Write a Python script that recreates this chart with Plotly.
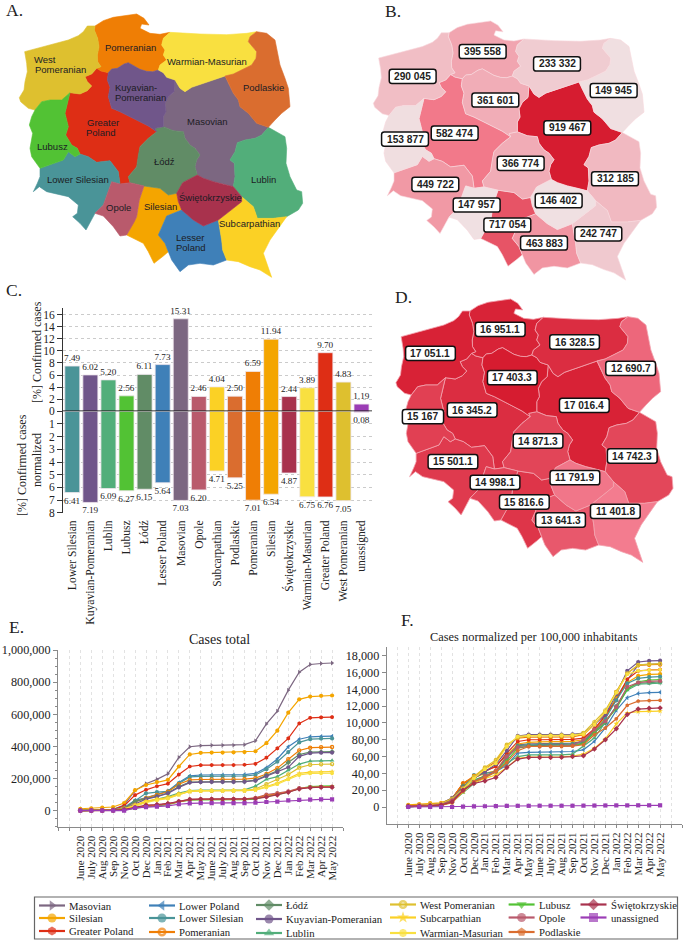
import plotly.graph_objects as go

W, H = 685, 943
SERIF = "Liberation Serif"
SANS = "Liberation Sans"

# ---------- data ----------
regions = ["Masovian", "Silesian", "Greater Poland", "Lesser Poland", "Lower Silesian", "Pomeranian", "Łódź",
           "Kuyavian-Pomeranian", "Lublin", "West Pomeranian", "Subcarpathian", "Warmian-Masurian", "Lubusz",
           "Opole", "Podlaskie", "Świętokrzyskie"]
legend_names = ["Masovian", "Silesian", "Greater Poland", "Lower Poland", "Lower Silesian", "Pomeranian", "Łódź",
                "Kuyavian-Pomeranian", "Lublin", "West Pomeranian", "Subcarpathian", "Warmian-Masurian", "Lubusz",
                "Opole", "Podlaskie", "Świętokrzyskie", "unassigned"]
colors = ["#7C6781", "#F4A500", "#DE2E15", "#3F80B8", "#4A9498", "#EF7E05", "#618C66", "#70568A", "#52AE7A",
          "#DEC02F", "#FBD125", "#F9E040", "#52C234", "#B95A6C", "#DA6D2F", "#A8324D", "#9B3DB5"]
symbols = ["triangle-right", "circle", "hexagon", "triangle-left", "circle", "circle-open", "diamond", "circle",
           "triangle-up", "circle-open", "star", "asterisk-open", "triangle-down", "circle", "pentagon", "diamond",
           "square"]

# province boundary chains (map units); provinces are assembled from these
coast_wp = [(105,330),(85,325),(62,305),(58,293),(72,270),(75,245),(82,215),(80,190),(74,155),(110,145),(170,130),(205,120),(235,107),(250,95),(262,78),(285,78)]
wp_pom = [(285,78),(283,90),(293,115),(297,140),(292,165),(293,185),(303,200),(290,205)]
pom_coast = [(285,78),(310,62),(340,52),(380,45),(410,42),(432,55),(447,75),(425,72),(420,85),(450,100),(480,103),(510,97)]
wp_gp = [(210,278),(240,282),(262,272),(275,258),(262,245),(255,230),(275,222),(290,205)]
wp_lubusz = [(210,278),(185,300),(150,300),(125,305),(105,330)]
pom_gp = [(290,205),(303,213),(325,218)]
pom_kuy = [(325,218),(335,207),(352,205),(372,192),(385,188),(405,200),(420,208),(440,214),(458,215),(475,210)]
pom_war = [(510,97),(490,115),(485,135),(495,150),(490,165),(500,180),(480,195),(475,210)]
war_coast = [(510,97),(550,100),(600,102),(680,104),(740,100),(770,95)]
war_pod = [(770,95),(750,110),(745,125),(770,155),(768,175),(755,195),(725,210),(700,222),(675,228)]
war_mas = [(675,228),(640,240),(600,255),(575,262),(555,275),(540,265),(525,240)]
war_kuy = [(525,240),(500,232),(490,218),(475,210)]
pod_outer = [(770,95),(800,100),(825,120),(835,165),(840,195),(855,235),(865,265),(870,320),(845,340),(825,360),(805,382)]
pod_mas = [(675,228),(685,250),(700,280),(715,300),(720,320),(745,340),(770,370),(805,382)]
kuy_mas = [(525,240),(522,275),(505,290),(495,310),(498,335),(490,350),(490,380)]
kuy_gp = [(325,218),(322,240),(330,262),(325,290),(335,325),(360,335),(390,350),(420,365),(445,378),(470,395)]
kuy_lod = [(470,395),(465,385),(490,380)]
mas_lod = [(490,380),(520,392),(550,395),(555,415),(570,435),(585,445),(600,465),(590,480),(585,500),(592,525)]
mas_lublin = [(805,382),(785,405),(765,415),(735,420),(712,428),(705,455),(690,480),(703,490),(705,530),(700,560)]
mas_swi = [(592,525),(610,535),(640,545),(670,552),(700,560)]
gp_lod = [(470,395),(445,415),(420,440),(415,465),(410,500),(385,530),(390,548)]
gp_opole = [(390,548),(360,552)]
gp_lubusz = [(210,278),(195,340),(205,380),(197,405),(215,435),(232,445),(240,462)]
gp_ls = [(240,462),(265,470),(290,487),(330,482),(355,515),(360,552)]
lubusz_outer = [(105,330),(95,350),(88,375),(98,400),(90,445),(95,470),(120,505)]
lubusz_ls = [(120,505),(160,490),(190,480),(205,455),(225,470),(240,462)]
ls_outer = [(120,505),(120,530),(112,550),(100,575),(118,560),(140,575),(160,580),(205,590),(235,615),(232,640),(218,650),(240,670),(258,690),(285,640)]
ls_opole = [(360,552),(335,545),(325,575),(310,615),(285,640)]
opole_outer = [(285,640),(310,648),(340,680),(360,708),(380,705)]
opole_sil = [(432,558),(418,600),(410,650),(403,665),(380,705)]
opole_lod = [(390,548),(432,558)]
lod_sil = [(432,558),(480,565),(505,585),(530,580)]
lod_swi = [(530,580),(548,548),(592,525)]
sil_swi = [(530,580),(535,605),(545,630)]
sil_lesser = [(545,630),(500,648),(475,705),(495,730),(505,755)]
sil_outer = [(380,705),(430,730),(445,755),(462,790),(490,768),(505,755)]
swi_lesser = [(545,630),(580,660),(610,678),(655,660)]
swi_subc = [(655,660),(700,625),(725,605),(725,590)]
swi_lublin = [(700,560),(725,590)]
lublin_subc = [(725,590),(760,620),(772,655),(820,655),(860,650)]
lublin_outer = [(805,382),(830,395),(855,410),(860,445),(858,490),(870,530),(890,570),(905,575),(908,610),(895,630),(860,650)]
subc_outer = [(860,650),(835,685),(810,720),(790,760),(815,832),(780,810),(750,800),(715,785),(680,780)]
subc_lesser = [(655,660),(665,720),(668,750),(680,780)]
lesser_outer = [(505,755),(515,780),(540,815),(565,795),(600,790),(640,795),(680,780)]

def ring(*chains):
    first = list(chains[0])
    if first[-1] not in (chains[1][0], chains[1][-1]):
        first.reverse()
    pts = first
    for c in chains[1:]:
        seg = list(c) if c[0] == pts[-1] else list(reversed(c))
        pts += seg[1:]
    return pts

outlines = [
    ring(war_mas, kuy_mas, mas_lod, mas_swi, mas_lublin, pod_mas),
    ring(lod_sil, sil_swi, sil_lesser, sil_outer, opole_sil),
    ring(pom_gp, kuy_gp, gp_lod, gp_opole, gp_ls, gp_lubusz, wp_gp),
    ring(swi_lesser, subc_lesser, lesser_outer, sil_lesser),
    ring(lubusz_ls, gp_ls, ls_opole, ls_outer),
    ring(pom_coast, pom_war, pom_kuy, pom_gp, wp_pom),
    ring(kuy_lod, mas_lod, lod_swi, lod_sil, opole_lod, gp_lod),
    ring(pom_kuy, war_kuy, kuy_mas, kuy_lod, kuy_gp),
    ring(lublin_outer, lublin_subc, swi_lublin, mas_lublin),
    ring(coast_wp, wp_pom, wp_gp, wp_lubusz),
    ring(lublin_subc, subc_outer, subc_lesser, swi_subc),
    ring(war_coast, war_pod, war_mas, war_kuy, pom_war),
    ring(wp_lubusz, lubusz_outer, lubusz_ls, gp_lubusz),
    ring(opole_lod, opole_sil, opole_outer, ls_opole, gp_opole),
    ring(pod_outer, pod_mas, war_pod),
    ring(lod_swi, mas_swi, swi_lublin, swi_subc, swi_lesser, sil_swi),
]

# panel A labels
a_text = ["West", "Pomeranian", "Pomeranian", "Warmian-Masurian", "Kuyavian-", "Pomeranian", "Podlaskie", "Greater", "Poland",
          "Masovian", "Lubusz", "Łódź", "Lower Silesian", "Lublin", "Opole", "Silesian", "Świętokrzyskie", "Lesser", "Poland",
          "Subcarpathian"]
a_x = [135,180,391,622,407,420,789,308,304,622,158,494,235,791,356,480,632,572,574,749]
a_y = [177,209,143,185,262,293,263,366,398,363,440,484,539,537,623,618,592,711,742,670]

# panel B: confirmed cases by region (order of `regions`)
cases_total = [919467, 717054, 582474, 463883, 449722, 395558, 366774, 361601, 312185, 290045, 242747, 233332, 153877,
               147957, 149945, 146402]
b_x = [640,460,302,570,244,386,500,424,783,176,733,609,153,368,779,614]
b_y = [368,664,384,719,540,135,476,283,523,211,691,173,402,603,254,590]

# panel D: cases normalized by region
cases_norm = [17016.4, 15816.6, 16345.2, 13641.3, 15501.1, 16951.1, 14871.3, 17403.3, 14742.3, 17051.1, 11401.8, 16328.5,
              15167, 14998.1, 12690.7, 11791.9]
d_x = [636,452,292,563,233,378,494,415,783,164,731,606,141,362,778,607]
d_y = [361,651,375,705,530,133,468,278,513,205,679,171,395,592,250,578]

# panel C
bar_names = ["Lower Silesian", "Kuyavian-Pomeranian", "Lublin", "Lubusz", "Łódź", "Lesser Poland", "Masovian", "Opole",
             "Subcarpathian", "Podlaskie", "Pomeranian", "Silesian", "Świętokrzyskie", "Warmian-Masurian", "Greater Poland",
             "West Pomeranian", "unassigned"]
bar_colors = ["#4A9498", "#70568A", "#52AE7A", "#52C234", "#618C66", "#3F80B8", "#7C6781", "#B95A6C", "#FBD125", "#DA6D2F",
              "#EF7E05", "#F4A500", "#A8324D", "#F9E040", "#DE2E15", "#DEC02F", "#9B3DB5"]
pct_confirmed = [7.49, 6.02, 5.20, 2.56, 6.11, 7.73, 15.31, 2.46, 4.04, 2.50, 6.59, 11.94, 2.44, 3.89, 9.70, 4.83, 1.19]
pct_normalized = [6.41, 7.19, 6.09, 6.27, 6.15, 5.64, 7.03, 6.20, 4.71, 5.25, 7.01, 6.54, 4.87, 6.75, 6.76, 7.05, 0.08]

# panels E and F
months = ["June 2020", "July 2020", "Aug 2020", "Sep 2020", "Nov 2020", "Oct 2020", "Dec 2020", "Jan 2021", "Feb 2021",
          "Mar 2021", "Apr 2021", "May 2021", "June 2021", "July 2021", "Aug 2021", "Sep 2021", "Oct 2021", "Nov 2021",
          "Dec 2021", "Jan 2022", "Feb 2022", "Mar 2022", "Apr 2022", "May 2022"]
e_masovian = [3,4,6,9,35,125,168,195,230,332,398,405,407,407,408,411,435,540,620,750,862,910,916,919]
e_silesian = [12,15,19,23,48,128,160,178,192,275,350,360,362,362,363,365,370,420,498,610,693,710,715,717]
e_greater = [2,3,4,7,30,97,130,152,168,225,275,283,284,284,284,286,292,330,388,450,543,578,581,582]
e_lesser = [2,3,4,6,20,65,80,100,122,175,217,222,223,223,223,225,232,268,322,398,445,460,462,464]
e_lower_silesian = [1,2,3,5,15,62,108,115,120,170,210,214,215,215,215,216,222,258,305,365,425,445,449,450]
e_pomeranian = [1,2,3,4,15,55,80,98,118,165,192,194,195,195,195,196,203,228,265,320,375,392,395,396]
e_lodz = [2,2,3,4,15,58,75,90,110,150,178,180,181,181,181,182,190,220,248,300,350,364,366,367]
e_kuyavian = [1,1,2,3,12,40,72,88,108,145,175,178,179,179,179,180,187,215,240,270,338,358,361,362]
e_lublin = [1,1,2,3,10,30,55,72,88,110,125,128,128,128,128,130,153,195,212,252,290,308,311,312]
e_west_pom = [1,1,2,2,8,32,55,70,82,105,120,124,124,125,125,126,135,165,195,225,268,286,289,290]
e_subcarpathian = [2,3,4,5,12,38,60,72,80,100,120,123,123,123,124,124,128,148,172,200,232,240,242,243]
e_warmian = [1,1,1,2,8,28,50,65,75,100,122,125,126,126,126,127,130,145,165,195,222,232,233,233]
e_lubusz = [0,1,1,1,5,15,25,30,38,55,65,67,67,67,68,68,72,90,100,115,138,150,153,154]
e_opole = [1,2,2,3,6,18,28,35,42,58,70,72,73,73,73,73,80,100,110,120,140,146,147,148]
e_podlaskie = [0,1,1,2,5,18,30,35,42,55,68,70,70,70,70,72,78,95,105,118,137,146,149,150]
e_swietokrzyskie = [1,1,2,3,7,20,35,38,45,58,70,72,72,72,72,72,75,85,98,115,135,143,146,146]
e_unassigned = [0,0,0,0,0,18,22,25,30,40,46,47,47,47,47,47,50,54,57,64,67,69,70,70]
e_series = [e_masovian, e_silesian, e_greater, e_lesser, e_lower_silesian, e_pomeranian, e_lodz, e_kuyavian, e_lublin,
            e_west_pom, e_subcarpathian, e_warmian, e_lubusz, e_opole, e_podlaskie, e_swietokrzyskie, e_unassigned]

f_masovian = [150,200,300,400,1000,2700,3500,4200,4900,6200,7400,7500,7550,7550,7560,7600,7800,9100,10900,13000,15100,16900,16980,17016]
f_silesian = [250,350,450,500,1000,2800,3500,4000,4300,6100,7500,7700,7750,7750,7770,7800,8000,9200,10600,13000,14800,15600,15780,15816]
f_greater = [100,150,200,300,1000,2800,3600,4300,4800,6400,7800,8000,8000,8000,8000,8050,8200,9300,10900,12700,15200,16200,16300,16345]
f_lesser = [50,100,150,200,700,2100,2900,3500,4200,5000,6400,6500,6520,6520,6550,6600,6800,7800,9400,11500,13000,13500,13600,13641]
f_lower_silesian = [50,100,150,200,800,2300,3800,4000,4200,5800,7300,7400,7450,7450,7450,7500,7700,8900,10500,12700,14700,15300,15450,15501]
f_pomeranian = [150,200,300,400,1000,2800,3700,4600,5400,7300,8200,8300,8300,8300,8320,8350,8600,9800,11300,13700,15900,16850,16930,16951]
f_lodz = [100,150,200,250,800,2500,3200,3700,4200,6000,7200,7300,7300,7300,7300,7380,7600,8800,10000,12000,14100,14700,14800,14871]
f_kuyavian = [100,150,250,350,1100,2300,3400,4200,5100,6700,8450,8600,8600,8620,8620,8640,8800,9800,11000,13400,16200,17250,17380,17403]
f_lublin = [50,100,150,200,600,1700,2800,3500,4200,5200,6000,6200,6200,6200,6200,6300,7200,8200,10100,12000,13900,14600,14700,14742]
f_west_pom = [150,200,300,400,1000,2200,3600,4700,5600,7400,8300,8450,8480,8480,8500,8530,8800,10100,11500,13700,15900,16900,17000,17051]
f_subcarpathian = [100,150,200,250,550,1800,2900,3400,3800,4700,5800,5950,5950,5950,5980,6050,6300,7000,8100,9900,11200,11350,11400,11401]
f_warmian = [100,100,150,200,600,2100,3400,4500,5200,7200,8400,8500,8500,8500,8520,8540,8650,9800,11300,13600,15800,16200,16300,16328]
f_lubusz = [50,100,100,150,700,2000,3100,3700,4200,5500,7000,7200,7200,7200,7250,7300,7500,8900,10200,11700,14000,14900,15100,15167]
f_opole = [100,200,200,300,800,2000,3000,3700,4300,6000,7100,7200,7200,7200,7250,7300,8000,9200,10200,11900,14300,14800,14950,14998]
f_podlaskie = [50,100,100,200,500,1900,3000,3500,4200,5300,6700,7200,7200,7200,7200,7250,7400,8600,9400,10500,12100,12600,12650,12690]
f_swietokrzyskie = [100,100,150,250,600,2000,2800,3100,3500,4700,5700,5900,5900,5900,5930,6000,6100,6900,8000,9300,11000,11650,11750,11791]
f_unassigned = [0,0,0,0,0,50,70,90,110,130,140,140,150,150,150,150,160,170,180,190,190,200,200,200]
f_series = [f_masovian, f_silesian, f_greater, f_lesser, f_lower_silesian, f_pomeranian, f_lodz, f_kuyavian, f_lublin,
            f_west_pom, f_subcarpathian, f_warmian, f_lubusz, f_opole, f_podlaskie, f_swietokrzyskie, f_unassigned]
f_yticks = [0, 2000, 4000, 6000, 8000, 10000, 12000, 14000, 16000, 18000]
f_yticktext = ["0", "20,00", "40,00", "60,00", "80,00", "10,000", "12,000", "14,000", "16,000", "18,000"]

# ---------- helpers ----------
def xd(a, b):
    return [a / W, b / W]

def yd(top, bottom):
    return [1 - bottom / H, 1 - top / H]

def lerp(c0, c1, t):
    return tuple(c0[i] + (c1[i] - c0[i]) * t for i in range(3))

def rgb(c):
    return "rgb(%d,%d,%d)" % tuple(round(v) for v in c)

def shade_b(v):
    t = (v - min(cases_total)) / (max(cases_total) - min(cases_total))
    low, mid, high = (240, 224, 226), (242, 122, 139), (214, 28, 48)
    return rgb(lerp(low, mid, t / 0.56) if t < 0.56 else lerp(mid, high, (t - 0.56) / 0.44))

def shade_d(v):
    t = (v - min(cases_norm)) / (max(cases_norm) - min(cases_norm))
    return rgb(lerp((243, 124, 143), (214, 28, 48), t))

def rounded(cx, cy, hw, hh, r):
    x0, x1, y0, y1 = cx - hw, cx + hw, cy - hh, cy + hh
    return (f"M{x0+r},{y0} L{x1-r},{y0} Q{x1},{y0} {x1},{y0+r} L{x1},{y1-r} Q{x1},{y1} {x1-r},{y1} "
            f"L{x0+r},{y1} Q{x0},{y1} {x0},{y1-r} L{x0},{y0+r} Q{x0},{y0} {x0+r},{y0} Z")

fig = go.Figure()
annotations, shapes = [], []

def paper_text(px, py, text, size, family=SERIF, angle=0, xanchor="center"):
    annotations.append(dict(x=px / W, y=1 - py / H, xref="paper", yref="paper", text=text, showarrow=False,
                            font=dict(size=size, family=family, color="#222"), textangle=angle,
                            xanchor=xanchor, yanchor="middle"))

# ---------- maps ----------
def draw_map(ax, fills, border, bw):
    for outline, fill, name in zip(outlines, fills, regions):
        xs = [p[0] for p in outline] + [outline[0][0]]
        ys = [p[1] for p in outline] + [outline[0][1]]
        fig.add_trace(go.Scatter(x=xs, y=ys, mode="lines", fill="toself", fillcolor=fill, name=name, hoverinfo="name",
                                 line=dict(color=border or fill, width=bw), showlegend=False,
                                 xaxis="x" + ax, yaxis="y" + ax))

draw_map("", colors[:16], None, 0.6)
draw_map("2", [shade_b(v) for v in cases_total], "#F8D8DD", 0.6)
draw_map("3", [shade_d(v) for v in cases_norm], "#F3A3AE", 0.8)

for t, x, y in zip(a_text, a_x, a_y):
    annotations.append(dict(x=x, y=y, xref="x", yref="y", text=t, showarrow=False,
                            font=dict(size=9.5, family=SANS, color="#1c1c24")))

def fmt_space(v):
    if isinstance(v, float):
        whole = int(v)
        return f"{whole:,}".replace(",", " ") + f".{round((v - whole) * 10)}"
    return f"{v:,}".replace(",", " ")

def map_labels(ax, values, xs, ys, xunit):
    for v, x, y in zip(values, xs, ys):
        s = fmt_space(v)
        digits = sum(c.isdigit() for c in s)
        text_w = (digits * 0.556 + (len(s) - digits) * 0.278) * 10.2
        shapes.append(dict(type="path", path=rounded(x, y, (text_w / 2 + 5) * xunit, 7.2 * 3, 8),
                           xref="x" + ax, yref="y" + ax, fillcolor="white", line=dict(color="#111", width=1.5),
                           layer="above"))
        annotations.append(dict(x=x, y=y, xref="x" + ax, yref="y" + ax, text="<b>" + s + "</b>", showarrow=False,
                                font=dict(size=10.2, family=SANS, color="#222")))

map_labels("2", cases_total, b_x, b_y, 3.0)
map_labels("3", cases_norm, d_x, d_y, 3.0 / 0.978)

# ---------- bars ----------
idx = list(range(len(bar_names)))
for vals, ax in ((pct_confirmed, "4"), (pct_normalized, "5")):
    fig.add_trace(go.Bar(x=idx, y=vals, marker=dict(color=bar_colors, line=dict(color="#EFE6EC", width=0.8)),
                         width=0.83, text=[f"{v:.2f}" for v in vals], textposition="outside", cliponaxis=False,
                         constraintext="none", textangle=0,
                         textfont=dict(size=9.2, family=SERIF, color="#222"), showlegend=False, xaxis="x" + ax, yaxis="y" + ax))
shapes.append(dict(type="line", x0=-0.514, x1=16.58, y0=0, y1=0, xref="x4", yref="y4",
                   line=dict(color="black", width=1.5), layer="above"))

# ---------- lines ----------
for series, ax, scale in ((e_series, "6", 1000), (f_series, "7", 1)):
    for vals, name, col, sym in zip(series, legend_names, colors, symbols):
        is_open = "open" in sym
        fig.add_trace(go.Scatter(x=list(range(len(months))), y=[v * scale for v in vals], mode="lines+markers", name=name,
                                 line=dict(color=col, width=1.2),
                                 marker=dict(symbol=sym, size=3.2 if is_open else 4.2, color=col,
                                             line=dict(color=col, width=1.2 if is_open else 0)),
                                 showlegend=False, xaxis="x" + ax, yaxis="y" + ax))

# ---------- manual legend ----------
legend_col_x0 = [39, 39, 39, 149, 149, 149, 256, 256, 256, 390, 390, 390, 508.6, 508.6, 508.6, 580.5, 580.5]
legend_row_y = [905.5, 918, 931, 905.5, 918, 932, 905, 919, 933, 904.5, 917.5, 933, 904.5, 917.5, 932, 904.5, 917.5]
for name, col, sym, x0, y in zip(legend_names, colors, symbols, legend_col_x0, legend_row_y):
    is_open = "open" in sym
    fig.add_trace(go.Scatter(x=[x0, x0 + 13, x0 + 26], y=[y, y, y], mode="lines+markers", name=name,
                             line=dict(color=col, width=2.2),
                             marker=dict(symbol=sym, size=[0, 6.5 if is_open else 9, 0], color=col,
                                         line=dict(color=col, width=2.5 if is_open else 0)),
                             showlegend=False, xaxis="x8", yaxis="y8"))
    annotations.append(dict(x=x0 + 28, y=y, xref="x8", yref="y8", text=name, showarrow=False, xanchor="left",
                            font=dict(size=10.7, family=SERIF, color="#222")))
shapes.append(dict(type="rect", x0=34.5, x1=677.5, y0=897, y1=939, xref="x8", yref="y8",
                   line=dict(color="#666", width=1.2), fillcolor="rgba(0,0,0,0)", layer="below"))

# ---------- text ----------
for t, x, y in (("A.", 4, 10), ("B.", 383, 11), ("C.", 4, 290), ("D.", 393, 297), ("E.", 7, 627), ("F.", 399, 620)):
    paper_text(x, y, t, 17.5, xanchor="left")
paper_text(37, 352, "[%] Confirmed cases", 12, angle=-90)
paper_text(22, 465, "[%] Confirmed cases", 12, angle=-90)
paper_text(37, 460, "normalized", 12, angle=-90)
paper_text(219, 639.5, "Cases total", 14)
paper_text(534, 637, "Cases normalized per 100,000 inhabitants", 12.4)

# ---------- axes ----------
hidden = dict(visible=False, showgrid=False, zeroline=False, fixedrange=True)
tick_x = list(range(-2, 25))
tick_text = [months[i] if 0 <= i < len(months) else "" for i in tick_x]
tick_x_f = list(range(-2, 26))
tick_text_f = [months[i] if 0 <= i < len(months) else "" for i in tick_x_f]
line_col = "#8a8a8a"

fig.update_layout(
    width=W, height=H, autosize=False, margin=dict(l=0, r=0, t=0, b=0, autoexpand=False), paper_bgcolor="white",
    plot_bgcolor="rgba(0,0,0,0)", barmode="overlay", hovermode="closest", showlegend=False, annotations=annotations, shapes=shapes,
    xaxis=dict(hidden, domain=xd(0, 316.67), range=[0, 950]),
    yaxis=dict(hidden, domain=yd(0, 280), range=[840, 0]),
    xaxis2=dict(hidden, domain=xd(354, 670.67), range=[0, 950]),
    yaxis2=dict(hidden, domain=yd(7.2, 282.7), range=[840, 0]),
    xaxis3=dict(hidden, domain=xd(377, 680.2), range=[0, 930]),
    yaxis3=dict(hidden, domain=yd(285, 565), range=[840, 0]),
    xaxis4=dict(domain=xd(63, 372), range=[-0.514, 16.58], anchor="y4", showticklabels=False, ticks="", showgrid=False,
                zeroline=False, showline=False),
    yaxis4=dict(domain=yd(308, 411.3), range=[0, 17.1], anchor="x4", tickvals=list(range(0, 17, 2)), ticks="outside",
                ticklen=5, tickcolor="#333", showline=True, linecolor="#333", linewidth=1, showgrid=True, griddash="dot",
                gridcolor="#CBCBCB", gridwidth=0.8, zeroline=False, tickfont=dict(size=11.5, family=SERIF, color="#222")),
    xaxis5=dict(domain=xd(63, 372), range=[-0.514, 16.58], anchor="y5", tickvals=idx, ticktext=bar_names, tickangle=-90,
                ticks="outside", ticklen=2, tickcolor="rgba(0,0,0,0)", showgrid=False, zeroline=False, showline=False,
                tickfont=dict(size=11.6, family=SERIF, color="#222")),
    yaxis5=dict(domain=yd(411.3, 512.7), range=[8, 0], anchor="x5", tickvals=list(range(1, 9)), ticks="outside", ticklen=5,
                tickcolor="#333", showline=True, linecolor="#333", linewidth=1, showgrid=True, griddash="dot",
                gridcolor="#CBCBCB", gridwidth=0.8, zeroline=False, tickfont=dict(size=11.5, family=SERIF, color="#222")),
    xaxis6=dict(domain=xd(58, 343), range=[-2.04, 24.0], anchor="y6", tickvals=tick_x, ticktext=tick_text, tickangle=-90,
                ticks="outside", ticklen=3, tickcolor=line_col, showline=True, linecolor=line_col, linewidth=1, showgrid=True,
                griddash="dot", gridcolor="#E2E2E2", zeroline=False, tickfont=dict(size=11, family=SERIF, color="#222")),
    yaxis6=dict(domain=yd(650, 827.3), range=[-103300, 1000000], anchor="x6", tickvals=list(range(0, 1000001, 200000)),
                tickformat=",d", ticks="outside", ticklen=4, tickcolor=line_col, showline=True, linecolor=line_col, linewidth=1,
                showgrid=False, zeroline=False, tickfont=dict(size=12.2, family=SERIF, color="#222"),
                minor=dict(dtick=50000, ticks="outside", ticklen=2, tickcolor=line_col, showgrid=False)),
    xaxis7=dict(domain=xd(386.7, 682), range=[-1.97, 25], anchor="y7", tickvals=tick_x_f, ticktext=tick_text_f, tickangle=-90,
                ticks="outside", ticklen=3, tickcolor=line_col, showline=True, linecolor=line_col, linewidth=1, showgrid=True,
                griddash="dot", gridcolor="#E2E2E2", zeroline=False, tickfont=dict(size=11, family=SERIF, color="#222")),
    yaxis7=dict(domain=yd(646.7, 824), range=[-2022, 19070], anchor="x7", tickvals=f_yticks, ticktext=f_yticktext,
                ticks="outside", ticklen=4, tickcolor=line_col, showline=True, linecolor=line_col, linewidth=1,
                showgrid=False, zeroline=False, tickfont=dict(size=12.2, family=SERIF, color="#222")),
    xaxis8=dict(hidden, domain=[0, 1], range=[0, W], anchor="y8"),
    yaxis8=dict(hidden, domain=[0, 1], range=[H, 0], anchor="x8"),
)

fig.write_html("out.html", config={"displayModeBar": False},
               post_script="document.body.style.margin='0';document.body.style.overflow='hidden';")
